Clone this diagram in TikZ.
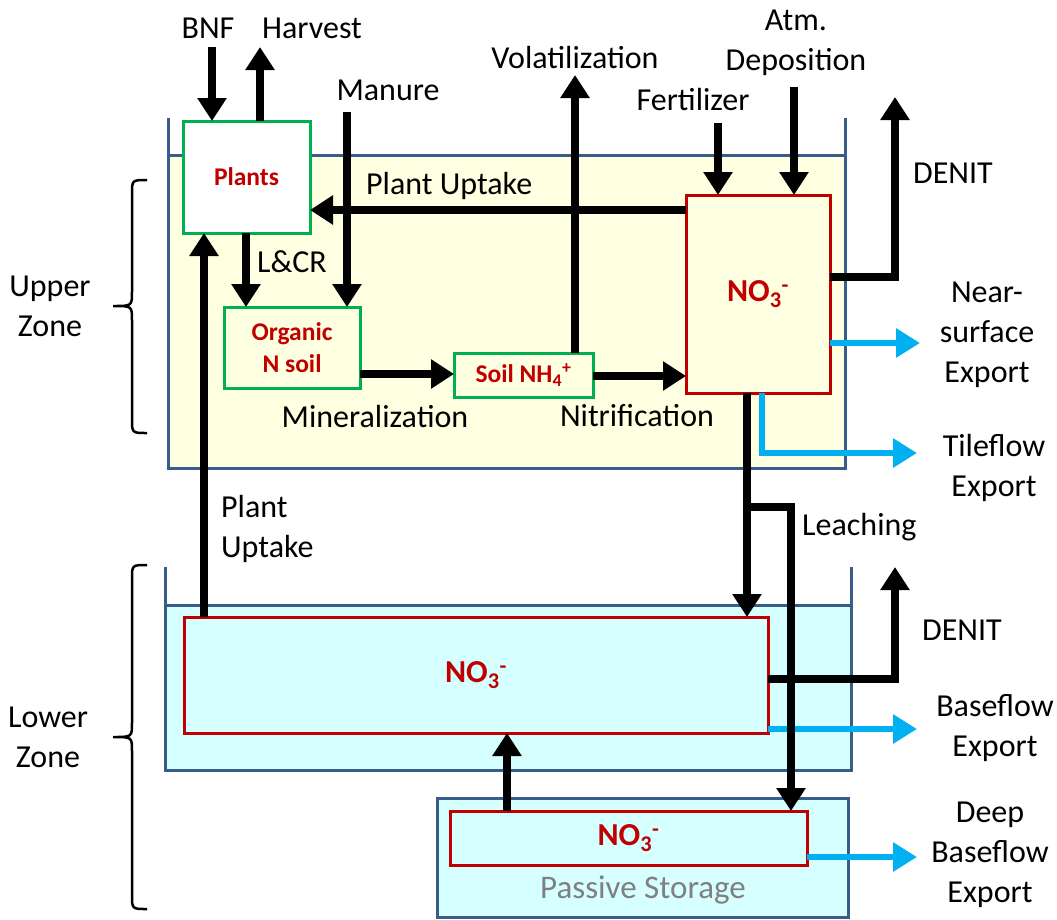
\documentclass[tikz,border=0pt]{standalone}
\usepackage{fontspec}
\setmainfont{Carlito}
\usetikzlibrary{arrows.meta}
\definecolor{nred}{HTML}{C00000}
\definecolor{ngreen}{HTML}{00B050}
\definecolor{ncyan}{HTML}{00B0F0}
\definecolor{nblue}{HTML}{385D8A}
\definecolor{yfill}{HTML}{FFFFE1}
\definecolor{cfill}{HTML}{D6FFFF}
\definecolor{ngray}{HTML}{808080}
\begin{document}
\begin{tikzpicture}[x=1pt,y=-1pt,
  lbl/.style={font=\fontsize{32}{40}\selectfont, align=center, inner sep=0pt},
  bx/.style={draw, line width=3pt, inner sep=0pt, outer sep=0pt, font=\bfseries\fontsize{25.5}{32}\selectfont, text=nred, align=center},
  gbox/.style={bx, draw=ngreen},
  rbox/.style={bx, draw=nred, font=\bfseries\fontsize{32}{36}\selectfont},
  barrow/.style={line width=8pt, -{Triangle[width=28pt,length=23pt]}},
  carrow/.style={line width=6pt, draw=ncyan, -{Triangle[width=28pt,length=24pt]}},
  zone/.style={draw=nblue, line width=3pt},
  zbrace/.style={draw, line width=2.5pt}]
\useasboundingbox (0,0) rectangle (1057,919);
% zones
\fill[yfill] (168,155) rectangle (845,468);
\draw[zone] (168,118) -- (168,468) -- (845,468) -- (845,118);
\draw[zone] (168,155) -- (845,155);
\fill[cfill] (165,605) rectangle (851,770);
\draw[zone] (165,567) -- (165,770) -- (851,770) -- (851,567);
\draw[zone] (165,605) -- (851,605);
\draw[zone, fill=cfill] (437,798) rectangle (848,917);
\node[font=\fontsize{33}{36}\selectfont, text=ngray, inner sep=0pt] (pstore) at (643,890) {Passive Storage};
% braces
\draw[zbrace] (147,180) .. controls (132,180) .. (132,194) -- (132,292) .. controls (132,306) .. (113,306) .. controls (132,306) .. (132,320) -- (132,419) .. controls (132,433) .. (147,433);
\draw[zbrace] (147,565) .. controls (132,565) .. (132,579) -- (132,723) .. controls (132,737) .. (113,737) .. controls (132,737) .. (132,751) -- (132,895) .. controls (132,909) .. (147,909);
\node[lbl] (uz) at (50,306) {Upper\\Zone};
\node[lbl] (lz) at (48,737) {Lower\\Zone};
% boxes
\node[gbox, fill=white, minimum width=127pt, minimum height=112pt] (plants) at (246.5,177) {Plants};
\node[gbox, fill=yfill, minimum width=136pt, minimum height=81pt] (org) at (292,347.5) {Organic\\N soil};
\node[gbox, fill=yfill, minimum width=139pt, minimum height=44pt] (nh4) at (523.5,375) {Soil NH\textsubscript{4}\textsuperscript{+}};
\node[rbox, fill=yfill, minimum width=144pt, minimum height=198pt] (no3u) at (758,294) {NO\textsubscript{3}\textsuperscript{-}};
\node[rbox, fill=cfill, minimum width=584pt, minimum height=116pt] (no3l) at (476,675) {NO\textsubscript{3}\textsuperscript{-}};
\node[rbox, fill=cfill, minimum width=357pt, minimum height=54pt] (pno3) at (628.5,838) {NO\textsubscript{3}\textsuperscript{-}};
% labels
\node[lbl] (bnf) at (208,28) {BNF};
\node[lbl] (harv) at (312,28) {Harvest};
\node[lbl] (manure) at (388,90) {Manure};
\node[lbl] (volat) at (575,58) {Volatilization};
\node[lbl] (atm) at (796,43) {Atm.\\Deposition};
\node[lbl] (fert) at (693,100) {Fertilizer};
\node[lbl, anchor=west] (puu) at (366,186) {Plant Uptake};
\node[lbl] (lcrl) at (292,262) {L\&CR};
\node[lbl] (denu) at (953,173) {DENIT};
\node[lbl] (nse) at (987,335) {Near-\\surface\\Export};
\node[lbl] (minl) at (375,416) {Mineralization};
\node[lbl] (nitl) at (637,416) {Nitrification};
\node[lbl] (tfl) at (994,468) {Tileflow\\Export};
\node[lbl, anchor=west] (leach) at (802,527) {Leaching};
\node[lbl, anchor=west, align=left] (pul) at (221,529) {Plant\\Uptake};
\node[lbl] (denl) at (962,630) {DENIT};
\node[lbl] (bfl) at (995,728) {Baseflow\\Export};
\node[lbl] (dbl) at (990,855) {Deep\\Baseflow\\Export};
% coordinates
\coordinate (bnf0) at (212,47);
\coordinate (harv1) at (260,47);
\coordinate (man0) at (347,112);
\coordinate (lcr) at (246,0);
\coordinate (vol1) at (575,75);
\coordinate (fert0) at (718,123);
\coordinate (atm0) at (794,87);
\coordinate (dnu) at (895,97);
\coordinate (nsee) at (920,343);
\coordinate (tf0) at (762,0);
\coordinate (tfe) at (917,453);
\coordinate (lch) at (747,507);
\coordinate (lch2) at (791,507);
\coordinate (pux) at (204,0);
\coordinate (dnl) at (895,567);
\coordinate (bfe) at (917,729);
\coordinate (pu2) at (507,0);
\coordinate (dbe) at (917,857);
% black arrows
\draw[barrow] (bnf0) -- (bnf0 |- plants.north);
\draw[barrow] (harv1 |- plants.north) -- (harv1);
\draw[barrow] (man0) -- (man0 |- org.north);
\draw[barrow] (lcr |- plants.south) -- (lcr |- org.north);
\draw[barrow] (no3u.west |- 0,210) -- (plants.east |- 0,210);
\draw[barrow] (org.east |- 0,374) -- (nh4.west |- 0,374);
\draw[barrow] (nh4.east |- 0,376) -- (no3u.west |- 0,376);
\draw[barrow] (vol1 |- nh4.north) -- (vol1);
\draw[barrow] (fert0) -- (fert0 |- no3u.north);
\draw[barrow] (atm0) -- (atm0 |- no3u.north);
\draw[barrow] (no3u.east |- 0,277) -| (dnu);
\draw[barrow] (pux |- no3l.north) -- (pux |- plants.south);
\draw[barrow] (no3l.east |- 0,679) -| (dnl);
\draw[barrow] (pu2 |- pno3.north) -- (pu2 |- no3l.south);
% cyan arrows
\draw[carrow] (no3u.east |- 0,343) -- (nsee);
\draw[carrow] (tf0 |- no3u.south) |- (tfe);
\draw[carrow] (no3l.east |- 0,729) -- (bfe);
\draw[carrow] (pno3.east |- 0,857) -- (dbe);
% leaching
\draw[barrow] (lch |- no3u.south) -- (lch |- no3l.north);
\draw[barrow] (lch) -- (lch2) -- (lch2 |- pno3.north);
\end{tikzpicture}
\end{document}
